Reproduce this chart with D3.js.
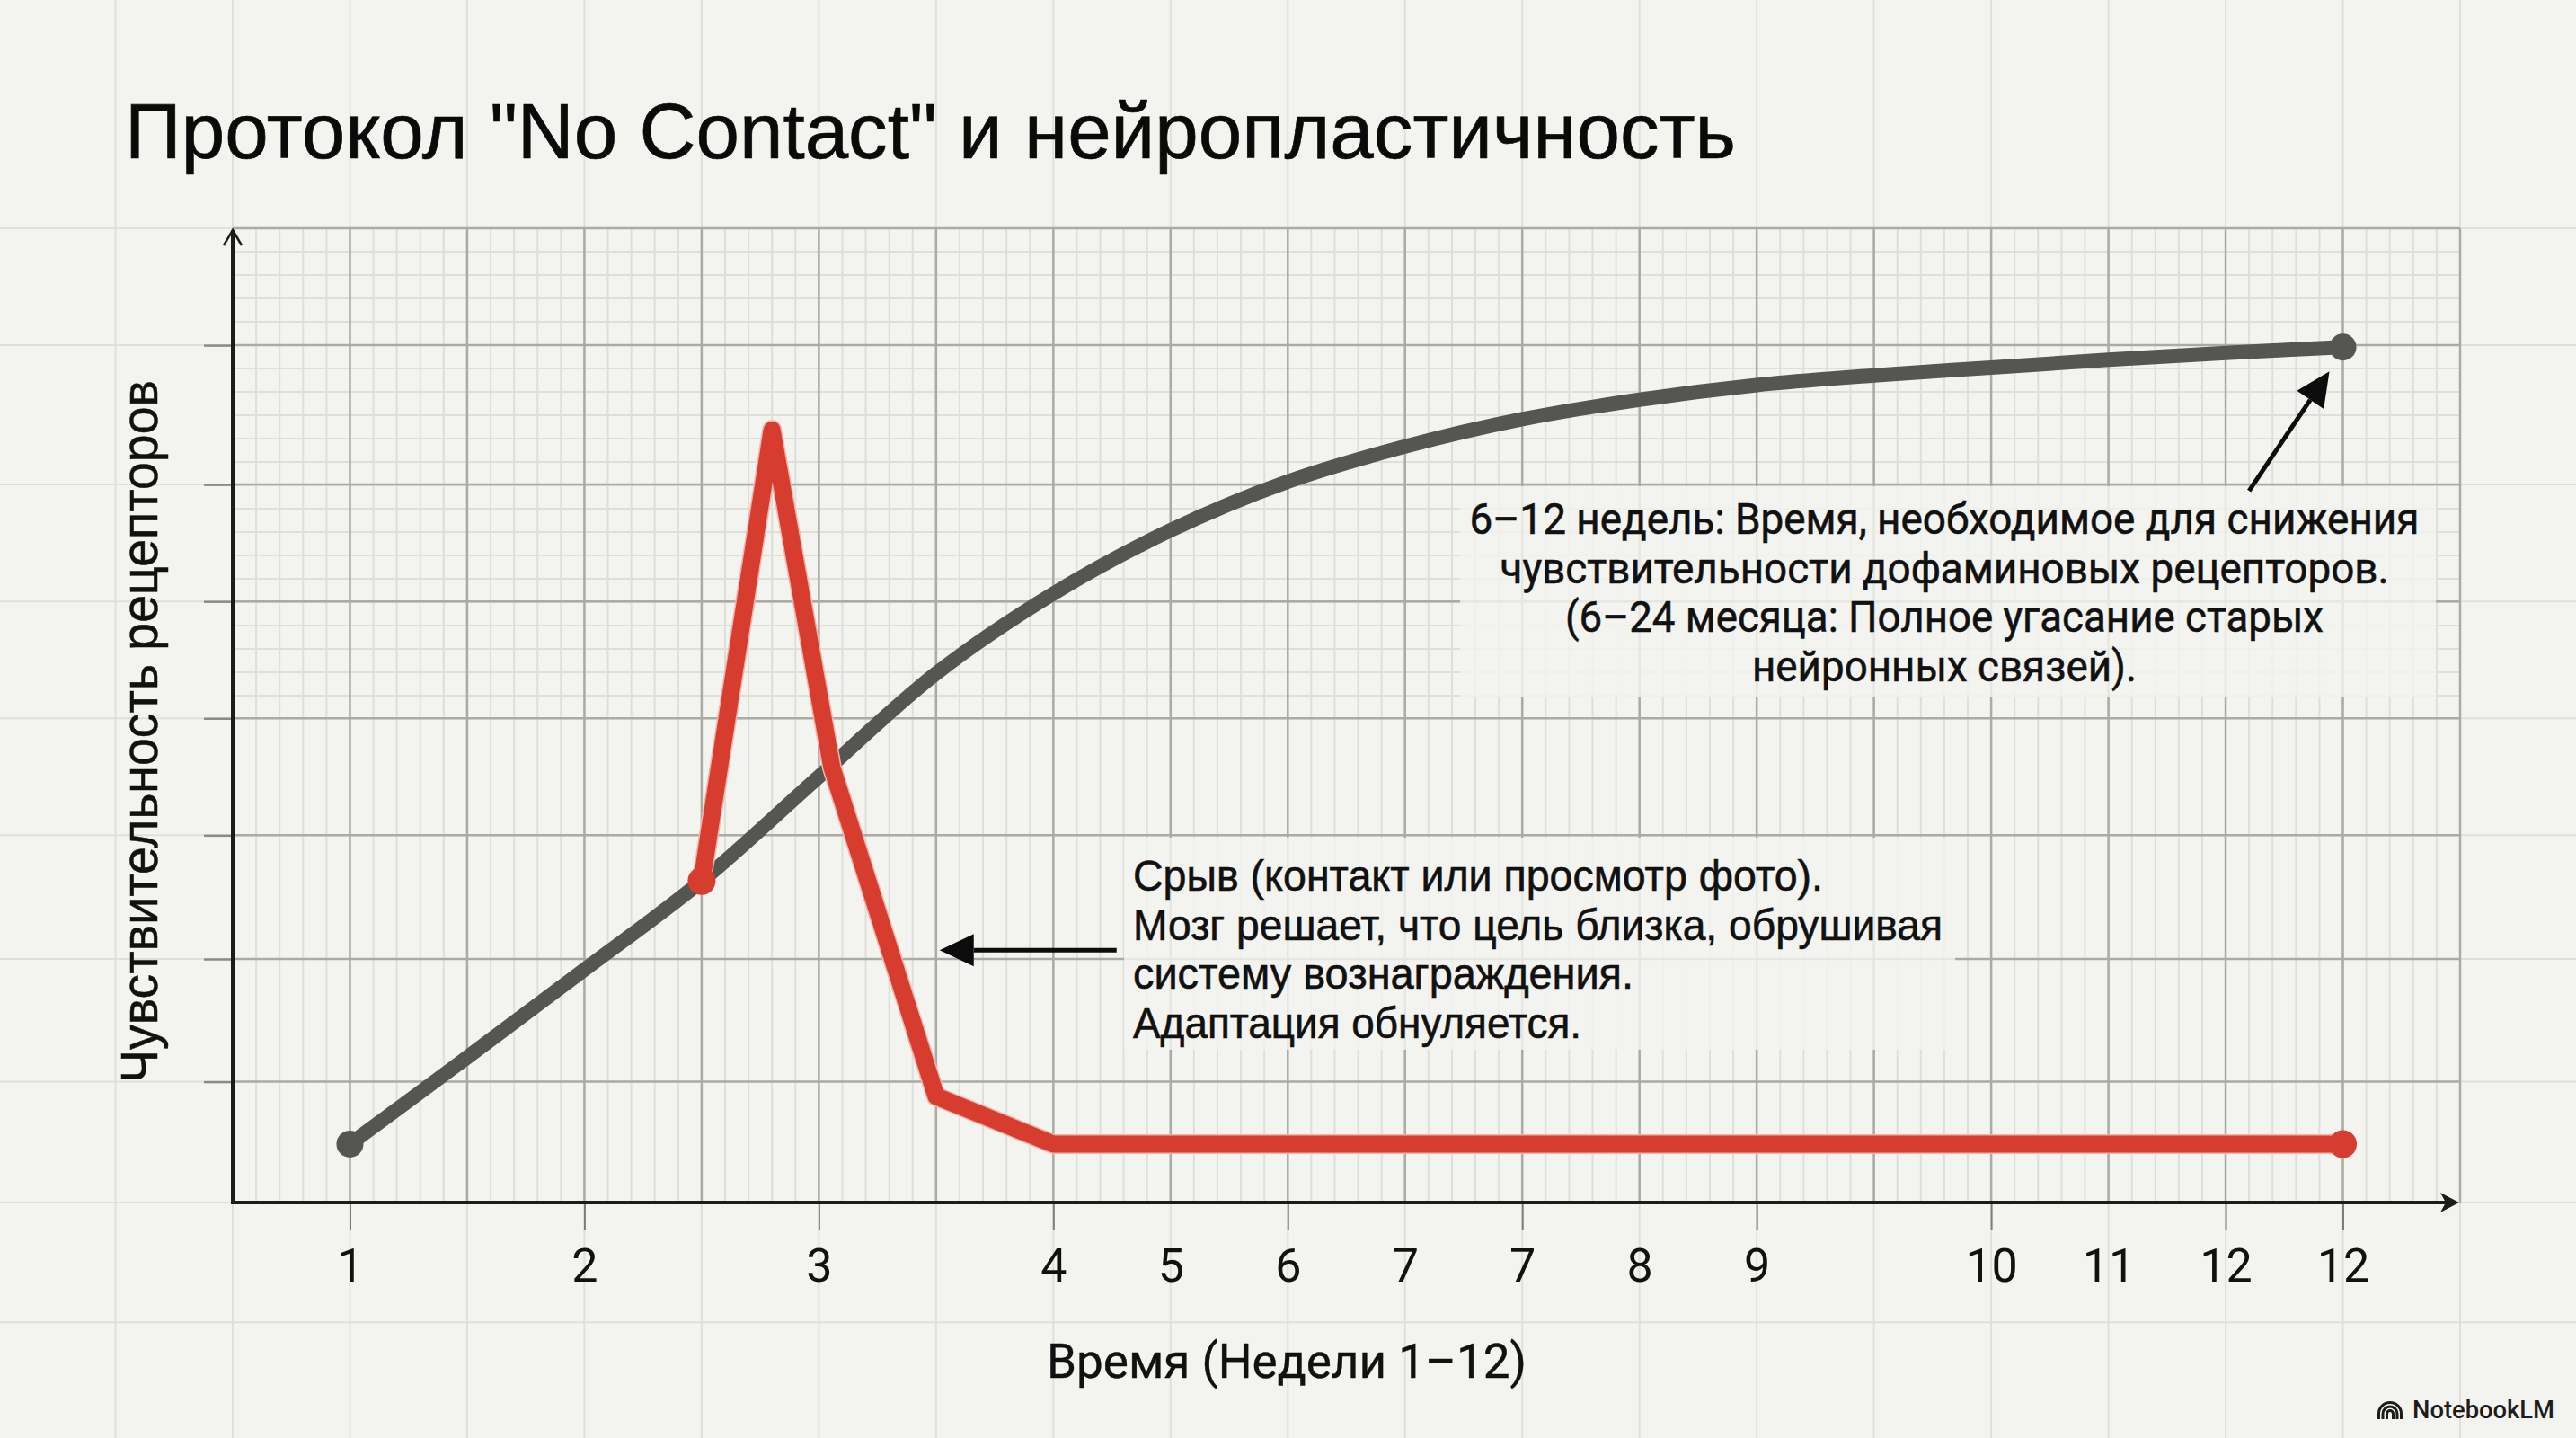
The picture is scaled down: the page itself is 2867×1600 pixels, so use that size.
<!DOCTYPE html>
<html lang="ru">
<head>
<meta charset="utf-8">
<title>Протокол "No Contact" и нейропластичность</title>
<script src="https://cdn.jsdelivr.net/npm/d3@7/dist/d3.min.js"></script>
<style>
  html, body { margin: 0; padding: 0; background: #f3f3ef; }
  svg { display: block; }
</style>
</head>
<body>
<svg id="chart" width="2867" height="1600"></svg>
<script>
// Horizontal position is expressed in grid columns; the tick labels sit on selected columns.
const tickSlots  = [1, 3, 5, 7, 8, 9, 10, 11, 12, 13, 15, 16, 17, 18];
const tickLabels = ["1", "2", "3", "4", "5", "6", "7", "7", "8", "9", "10", "11", "12", "12"];
const darkTickSlots = [1, 3, 5, 7, 9, 11, 13, 15, 17, 18];

// Receptor sensitivity, steady recovery.
const recoverySlots  = [1, 2, 3, 4, 5, 6, 7, 8, 9, 10, 11, 12, 13, 14, 15, 16, 17, 18];
const recoveryValues = [6, 14.9, 23.9, 33, 43.7, 54.3, 62.5, 69, 74, 77.6, 80.4, 82.4, 83.9, 84.9, 85.7, 86.5, 87.2, 87.8];

// Receptor sensitivity after a relapse.
const relapseSlots  = [4, 4.6, 5.11, 6, 7, 18];
const relapseValues = [33, 79.3, 44.7, 10.9, 6, 6];

// Unlabelled gridlines of the value axis.
const valueTicks = [12.4, 25, 37.7, 49.7, 61.7, 73.7, 88];

const titleText  = 'Протокол "No Contact" и нейропластичность';
const yTitleText = "Чувствительность рецепторов";
const xTitleText = "Время (Недели 1–12)";
const noteRecovery = [
  "6–12 недель: Время, необходимое для снижения",
  "чувствительности дофаминовых рецепторов.",
  "(6–24 месяца: Полное угасание старых",
  "нейронных связей)."
];
const noteRelapse = [
  "Срыв (контакт или просмотр фото).",
  "Мозг решает, что цель близка, обрушивая",
  "систему вознаграждения.",
  "Адаптация обнуляется."
];

const PAPER = "#f3f3ef", INK = "#111111", GREY = "#555553", RED = "#d73d2e";
const plot = { left: 259, right: 2738, top: 254, bottom: 1338 };

const x = d3.scaleLinear().domain([0, 19]).range([plot.left, plot.right]);
const y = d3.scaleLinear().domain([0, 100]).range([plot.bottom, plot.top]);

const svg = d3.select("#chart");
svg.append("rect").attr("width", 2867).attr("height", 1600).attr("fill", PAPER);

// Paper grid running past the plot on every side.
const paper = svg.append("g").attr("stroke", "#e0e0db").attr("stroke-width", 2);
d3.range(-1, 20).forEach(i => paper.append("line")
  .attr("x1", x(i)).attr("x2", x(i)).attr("y1", 0).attr("y2", 1600));
valueTicks.concat([100, 0, -12.3]).forEach(v => paper.append("line")
  .attr("y1", y(v)).attr("y2", y(v)).attr("x1", 0).attr("x2", 2867));

// Fine grid: columns over the full height, rows only in the upper part of the plot.
const fine = svg.append("g").attr("stroke", "#dfdfda").attr("stroke-width", 2);
d3.range(0, 95).filter(i => i % 5).forEach(i => fine.append("line")
  .attr("x1", x(i / 5)).attr("x2", x(i / 5)).attr("y1", plot.top).attr("y2", plot.bottom));
d3.range(1, 21).forEach(k => {
  const py = plot.top + k * 26;
  fine.append("line").attr("x1", plot.left).attr("x2", plot.right).attr("y1", py).attr("y2", py);
});

// Heavier grid inside the plot.
const major = svg.append("g").attr("stroke", "#ababa6").attr("stroke-width", 2.5);
d3.range(1, 20).forEach(i => major.append("line")
  .attr("x1", x(i)).attr("x2", x(i)).attr("y1", plot.top).attr("y2", plot.bottom));
valueTicks.concat([100]).forEach(v => major.append("line")
  .attr("y1", y(v)).attr("y2", y(v)).attr("x1", plot.left).attr("x2", plot.right));

// Pale panels that calm the grid behind the two notes.
svg.append("rect").attr("x", 1625).attr("y", 541).attr("width", 1086).attr("height", 234)
  .attr("fill", PAPER).attr("opacity", 0.82);
svg.append("rect").attr("x", 1251).attr("y", 932).attr("width", 925).attr("height", 236)
  .attr("fill", PAPER).attr("opacity", 0.82);

// Axes: bottom labels come from the slot lookup, the left axis only has tick marks.
const xAxis = d3.axisBottom(x).tickValues(tickSlots).tickSize(31).tickPadding(20)
  .tickFormat(s => tickLabels[tickSlots.indexOf(s)]);
const gx = svg.append("g").attr("transform", `translate(0,${plot.bottom})`).call(xAxis);
gx.select(".domain").remove();
gx.selectAll(".tick line").attr("stroke", "#7c7c78").attr("stroke-width", 2)
  .attr("opacity", s => darkTickSlots.includes(s) ? 1 : 0);
gx.selectAll(".tick text").attr("font-family", "Roboto").attr("font-size", 52)
  .attr("fill", INK).attr("dy", 0).attr("y", 88);

const yAxis = d3.axisLeft(y).tickValues(valueTicks).tickSize(32).tickFormat("");
const gy = svg.append("g").attr("transform", `translate(${plot.left},0)`).call(yAxis);
gy.select(".domain").remove();
gy.selectAll(".tick line").attr("stroke", "#8a8a86").attr("stroke-width", 2.5);

const axisLine = svg.append("g").attr("stroke", "#1c1c1c").attr("fill", "none");
axisLine.append("line").attr("x1", plot.left).attr("x2", plot.left)
  .attr("y1", plot.top + 2).attr("y2", plot.bottom + 2).attr("stroke-width", 4);
axisLine.append("line").attr("x1", plot.left - 2).attr("x2", plot.right - 8)
  .attr("y1", plot.bottom).attr("y2", plot.bottom).attr("stroke-width", 4);
axisLine.append("path").attr("stroke-width", 2.5).attr("stroke-linejoin", "miter")
  .attr("d", d3.line()([[plot.left - 10, plot.top + 19], [plot.left, plot.top + 2], [plot.left + 10, plot.top + 19]]));
axisLine.append("path").attr("stroke", "none").attr("fill", "#1c1c1c")
  .attr("d", d3.line()([[plot.right - 22, plot.bottom - 11], [plot.right - 1, plot.bottom],
    [plot.right - 22, plot.bottom + 11], [plot.right - 16, plot.bottom]]) + "Z");

// Series.
const smooth = d3.line().x(d => x(d[0])).y(d => y(d[1])).curve(d3.curveCatmullRom.alpha(0.5));
const straight = d3.line().x(d => x(d[0])).y(d => y(d[1]));
const recovery = d3.zip(recoverySlots, recoveryValues);
const relapse = d3.zip(relapseSlots, relapseValues);

svg.append("path").attr("d", smooth(recovery)).attr("fill", "none")
  .attr("stroke", GREY).attr("stroke-width", 16).attr("stroke-linecap", "round");
svg.selectAll("circle.recovery").data([recovery[0], recovery[recovery.length - 1]]).join("circle")
  .attr("class", "recovery").attr("cx", d => x(d[0])).attr("cy", d => y(d[1])).attr("r", 15).attr("fill", GREY);

svg.append("path").attr("d", straight(relapse)).attr("fill", "none")
  .attr("stroke", "#f0b5a8").attr("stroke-width", 22).attr("stroke-linejoin", "round").attr("stroke-linecap", "round");
svg.append("path").attr("d", straight(relapse)).attr("fill", "none")
  .attr("stroke", RED).attr("stroke-width", 19).attr("stroke-linejoin", "round").attr("stroke-linecap", "round");
svg.selectAll("circle.relapse").data([relapse[0], relapse[relapse.length - 1]]).join("circle")
  .attr("class", "relapse").attr("cx", d => x(d[0])).attr("cy", d => y(d[1])).attr("r", 15.5).attr("fill", RED);

// Callout arrows, given in the same units as the data.
const arrows = [
  { from: [17.2, 73.06], to: [17.885, 85.3] },
  { from: [7.54, 25.9], to: [6.03, 25.9] }
];
arrows.forEach(a => {
  const [x0, y0] = [x(a.from[0]), y(a.from[1])];
  const [x1, y1] = [x(a.to[0]), y(a.to[1])];
  const len = Math.hypot(x1 - x0, y1 - y0);
  const [ux, uy] = [(x1 - x0) / len, (y1 - y0) / len];
  const head = 38, half = 18;
  svg.append("line").attr("x1", x0).attr("y1", y0).attr("x2", x1 - ux * head).attr("y2", y1 - uy * head)
    .attr("stroke", "#0c0c0c").attr("stroke-width", 5);
  svg.append("path").attr("fill", "#0c0c0c").attr("d", d3.line()([
    [x1, y1],
    [x1 - ux * head - uy * half, y1 - uy * head + ux * half],
    [x1 - ux * head + uy * half, y1 - uy * head - ux * half]
  ]) + "Z");
});

// Text: each line is fitted to its measured width so the narrow set is kept.
svg.append("text").text(titleText).attr("x", 139).attr("y", 176)
  .attr("font-family", "Liberation Sans").attr("font-size", 88).attr("fill", "#0a0a0a")
  .attr("stroke", "#0a0a0a").attr("stroke-width", 0.7)
  .attr("textLength", 1793).attr("lengthAdjust", "spacingAndGlyphs");

svg.append("text").text(yTitleText)
  .attr("transform", "translate(175,814) rotate(-90)").attr("text-anchor", "middle")
  .attr("font-family", "Liberation Sans").attr("font-size", 58).attr("fill", INK)
  .attr("stroke", INK).attr("stroke-width", 0.5)
  .attr("textLength", 782).attr("lengthAdjust", "spacingAndGlyphs");

svg.append("text").text(xTitleText).attr("x", 1432).attr("y", 1533).attr("text-anchor", "middle")
  .attr("font-family", "Roboto").attr("font-size", 54).attr("fill", INK)
  .attr("stroke", INK).attr("stroke-width", 0.4)
  .attr("textLength", 534).attr("lengthAdjust", "spacingAndGlyphs");

const recoveryWidths = [1057, 989, 844, 428];
noteRecovery.forEach((line, i) => svg.append("text").text(line)
  .attr("x", 2164).attr("y", 594 + i * 54.7).attr("text-anchor", "middle")
  .attr("font-family", "Roboto").attr("font-size", 49).attr("fill", INK)
  .attr("stroke", INK).attr("stroke-width", 0.6)
  .attr("textLength", recoveryWidths[i]).attr("lengthAdjust", "spacingAndGlyphs"));

const relapseWidths = [768, 901, 557, 499];
noteRelapse.forEach((line, i) => svg.append("text").text(line)
  .attr("x", 1261).attr("y", 991 + i * 54.5)
  .attr("font-family", "Liberation Sans").attr("font-size", 48).attr("fill", INK)
  .attr("stroke", INK).attr("stroke-width", 0.6)
  .attr("textLength", relapseWidths[i]).attr("lengthAdjust", "spacingAndGlyphs"));

// Product mark in the corner: three nested arches.
const mark = svg.append("g").attr("fill", "none").attr("stroke", "#1c1c1c").attr("stroke-width", 3)
  .attr("transform", "translate(2660,1573)");
[12.5, 8, 3.5].forEach(r => {
  const p = d3.path();
  p.moveTo(-r, 6);
  p.lineTo(-r, 0);
  p.arc(0, 0, r, Math.PI, 0);
  p.lineTo(r, 6);
  mark.append("path").attr("d", p.toString());
});
svg.append("text").text("NotebookLM").attr("x", 2685).attr("y", 1578)
  .attr("font-family", "Roboto").attr("font-weight", 500).attr("font-size", 27).attr("fill", "#1c1c1c")
  .attr("textLength", 158).attr("lengthAdjust", "spacingAndGlyphs");
</script>
</body>
</html>
